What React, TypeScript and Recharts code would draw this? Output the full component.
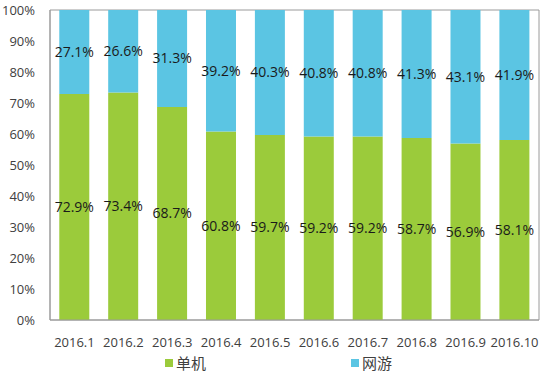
import { BarChart, Bar, XAxis, YAxis, CartesianGrid, Legend, LabelList } from 'recharts'

const months = ['2016.1', '2016.2', '2016.3', '2016.4', '2016.5', '2016.6', '2016.7', '2016.8', '2016.9', '2016.10']
const standalone = [72.9, 73.4, 68.7, 60.8, 59.7, 59.2, 59.2, 58.7, 56.9, 58.1]
const online = [27.1, 26.6, 31.3, 39.2, 40.3, 40.8, 40.8, 41.3, 43.1, 41.9]
const yTicks = [0, 0.1, 0.2, 0.3, 0.4, 0.5, 0.6, 0.7, 0.8, 0.9, 1]

const GREEN = '#9bcb3b'
const CYAN = '#5bc5e3'
const FONT = '"Open Sans", "Noto Sans CJK SC", sans-serif'

const data = months.map((m, i) => ({ month: m, standalone: standalone[i], online: online[i] }))

// 底部图例
const CustomLegend = () => (
  <div style={{ display: 'flex', justifyContent: 'center', gap: 145, paddingLeft: 18, paddingTop: 5, lineHeight: '16px', fontFamily: FONT, fontSize: 15, color: '#404040' }}>
    {[{ name: '单机', color: GREEN }, { name: '网游', color: CYAN }].map((item) => (
      <div key={item.name} style={{ display: 'flex', alignItems: 'center', gap: 3 }}>
        <div style={{ width: 8, height: 8, backgroundColor: item.color }} />
        <span>{item.name}</span>
      </div>
    ))}
  </div>
)

export default function App() {
  return (
    <div style={{ position: 'absolute', left: 0, top: 0, background: '#fff' }}>
      <BarChart
        width={550}
        height={373}
        data={data}
        stackOffset="expand"
        barCategoryGap="19%"
        margin={{ top: 10, right: 11, bottom: 0, left: 0 }}
      >
        <CartesianGrid
          stroke="#9a9a9a"
          horizontalCoordinatesGenerator={({ offset }: any) => [offset.top, offset.top + offset.height]}
          verticalCoordinatesGenerator={({ offset }: any) => [offset.left, offset.left + offset.width]}
        />
        <XAxis
          dataKey="month"
          axisLine={{ stroke: '#9a9a9a' }}
          tickLine={false}
          tickMargin={12}
          height={30}
          tick={{ fill: '#404040', fontSize: 13, fontFamily: FONT }}
        />
        <YAxis
          width={50}
          domain={[0, 1]}
          ticks={yTicks}
          tickFormatter={(v: number) => `${Math.round(v * 100)}%`}
          axisLine={{ stroke: '#9a9a9a' }}
          tickLine={false}
          tickMargin={9}
          tick={{ fill: '#404040', fontSize: 13, fontFamily: FONT }}
        />
        <Legend content={<CustomLegend />} height={23} verticalAlign="bottom" />
        <Bar dataKey="standalone" name="单机" stackId="a" fill={GREEN} isAnimationActive={false}>
          <LabelList dataKey="standalone" position="center" formatter={(v: any) => `${v}%`} fill="#1a1a1a" fontSize={14} fontFamily={FONT} />
        </Bar>
        <Bar dataKey="online" name="网游" stackId="a" fill={CYAN} isAnimationActive={false}>
          <LabelList dataKey="online" position="center" formatter={(v: any) => `${v}%`} fill="#1a1a1a" fontSize={14} fontFamily={FONT} />
        </Bar>
      </BarChart>
    </div>
  )
}
